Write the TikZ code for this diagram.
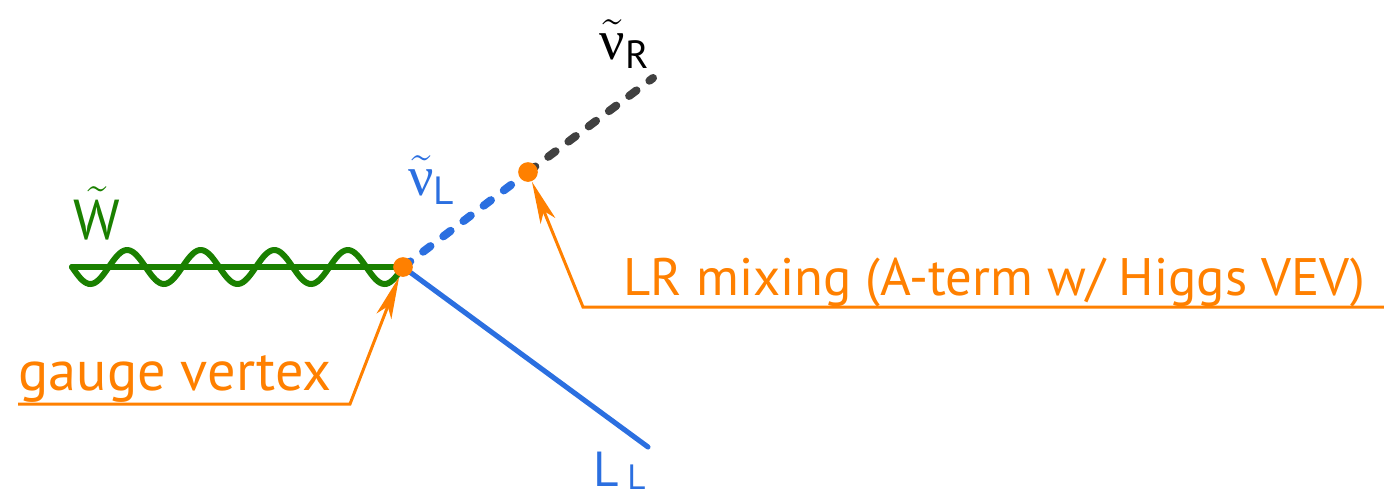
\documentclass[tikz,border=0pt]{standalone}
\usepackage{amsmath}
\usepackage{fontspec}
\setmainfont{PT Sans}
\newfontfamily\greekfont{Liberation Serif}
\usetikzlibrary{arrows.meta}
\definecolor{wgreen}{HTML}{1A8000}
\definecolor{lblue}{HTML}{2B6FE0}
\definecolor{rgray}{HTML}{404040}
\definecolor{vorange}{HTML}{FF8000}
\newcommand{\snu}[1]{$\tilde{\text{\greekfont ν}}_{\text{#1}}$}
\tikzset{
  wboson/.style={wgreen, line width=1.7pt, line cap=round},
  fermion/.style={lblue, line width=1.45pt, line cap=round},
  sfermion/.style={line width=2.3pt, line cap=round, dash pattern=on 2.6pt off 4.6pt},
  vertex/.style={circle, fill=vorange, inner sep=0pt, minimum size=5.6pt},
  pointer/.style={vorange, line width=0.85pt, -{Stealth[length=12pt, width=4.5pt, inset=3pt]}},
  label/.style={inner sep=0pt, font=\fontsize{16}{19}\selectfont}
}
\begin{document}
\begin{tikzpicture}[x=0.01cm, y=-0.01cm]
\useasboundingbox (0,0) rectangle (1384,493);
% points
\coordinate (v1) at (403,267);
\coordinate (v2) at (528,172);
\coordinate (wend) at (72,267);
\coordinate (rend) at (653,78);
\coordinate (lend) at (648,447);
% lines
\draw[wboson] (wend) -- (v1);
\draw[wboson] plot[domain=72:403, samples=160, smooth] (\x,{267+17*sin(4.894*(\x-72))});
\draw[fermion] (v1) -- (lend);
\draw[sfermion, lblue] (v1) -- (v2);
\draw[sfermion, rgray] (v2) -- (rend);
\node[vertex] (gv) at (v1) {};
\node[vertex] (mv) at (v2) {};
% labels
\node[label, text=wgreen] (wlab) at (97,213) {$\tilde{\text{W}}$};
\node[label, text=lblue] (nulab) at (432,180) {\snu{L}};
\node[label] (nurlab) at (625,44) {\snu{R}};
\node[label, text=lblue, font=\fontsize{14}{17}\selectfont, anchor=base west] (llab) at (593,486) {L\,\raisebox{-0.9pt}{\fontsize{10}{12}\selectfont L}};
% annotations
\node[label, text=vorange, anchor=base west] (gtxt) at (18,390) {gauge vertex};
\coordinate (g0) at (18,404);
\coordinate (g1) at (350,404);
\draw[pointer] (g0) -- (g1) -- (gv);
\node[label, text=vorange, anchor=base west, font=\fontsize{15}{18}\selectfont] (mtxt) at (623,295) {LR mixing (A-term w/ Higgs VEV)};
\coordinate (m0) at (1384,307);
\coordinate (m1) at (583,307);
\draw[pointer] (m0) -- (m1) -- (mv);
\end{tikzpicture}
\end{document}
